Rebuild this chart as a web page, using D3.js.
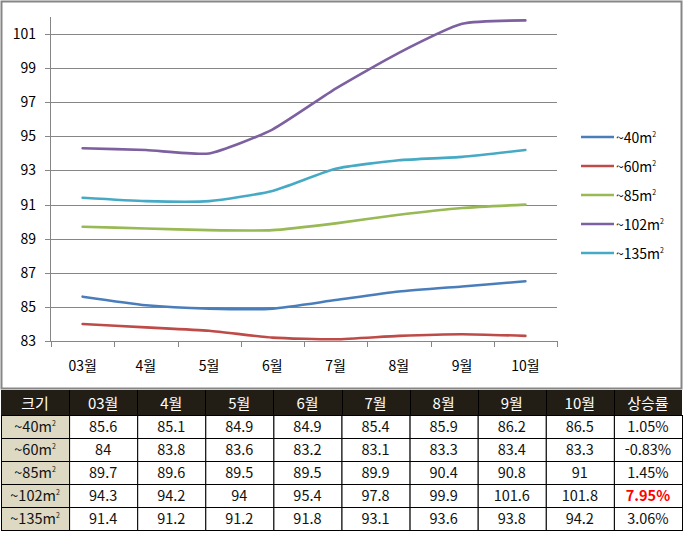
<!DOCTYPE html>
<html lang="ko">
<head>
<meta charset="UTF-8">
<title>면적별 추이</title>
<style>
    body { margin: 0; background: #fff; }
    svg text { font-family: "Noto Sans CJK KR", "Noto Sans", sans-serif; }
</style>
<script src="https://d3js.org/d3.v7.min.js"></script>
</head>
<body>
<svg id="chart" width="684" height="534"></svg>
<script>
    // data
    const months = ["03월", "4월", "5월", "6월", "7월", "8월", "9월", "10월"];
    const sizes = ["~40", "~60", "~85", "~102", "~135"];
    const s40 = [85.6, 85.1, 84.9, 84.9, 85.4, 85.9, 86.2, 86.5];
    const s60 = [84, 83.8, 83.6, 83.2, 83.1, 83.3, 83.4, 83.3];
    const s85 = [89.7, 89.6, 89.5, 89.5, 89.9, 90.4, 90.8, 91];
    const s102 = [94.3, 94.2, 94, 95.4, 97.8, 99.9, 101.6, 101.8];
    const s135 = [91.4, 91.2, 91.2, 91.8, 93.1, 93.6, 93.8, 94.2];
    const rates = ["1.05%", "-0.83%", "1.45%", "7.95%", "3.06%"];
    const yTicks = [83, 85, 87, 89, 91, 93, 95, 97, 99, 101];
    const colors = ["#4a7ebb", "#be4b48", "#98b954", "#7d60a0", "#46aac5"];

    const series = [s40, s60, s85, s102, s135];
    const svg = d3.select("#chart");

    // chart frame
    svg.append("rect")
        .attr("x", 1.5).attr("y", 1.5)
        .attr("width", 680).attr("height", 387)
        .attr("fill", "#fff")
        .attr("stroke", "#868686").attr("stroke-width", 2);

    const x = d3.scaleBand().domain(months).range([51, 557]);
    const y = d3.scaleLinear().domain([83, 102]).range([341, 17]);

    // gridlines
    svg.append("g").selectAll("line").data(yTicks).join("line")
        .attr("x1", 45).attr("x2", 557)
        .attr("y1", d => Math.round(y(d)) + 0.5).attr("y2", d => Math.round(y(d)) + 0.5)
        .attr("stroke", "#868686").attr("stroke-width", 1);

    // y axis line
    svg.append("line")
        .attr("x1", 50.5).attr("x2", 50.5).attr("y1", 17).attr("y2", 341)
        .attr("stroke", "#868686");

    svg.append("g").selectAll("text").data(yTicks).join("text")
        .attr("x", 36).attr("y", d => y(d) + 5)
        .attr("text-anchor", "end")
        .attr("font-size", 14)
        .attr("fill", "#000")
        .text(d => d);

    // x axis ticks
    const xEdges = months.map(m => x(m)).concat([557]);
    svg.append("g").selectAll("line").data(xEdges).join("line")
        .attr("x1", d => Math.round(d) + 0.5).attr("x2", d => Math.round(d) + 0.5)
        .attr("y1", 341).attr("y2", 347)
        .attr("stroke", "#868686");

    svg.append("g").selectAll("text").data(months).join("text")
        .attr("x", d => x(d) + x.bandwidth() / 2)
        .attr("y", 371)
        .attr("text-anchor", "middle")
        .attr("font-size", 14)
        .text(d => d);

    // lines
    const line = d3.line()
        .x((d, i) => x(months[i]) + x.bandwidth() / 2)
        .y(d => y(d))
        .curve(d3.curveCardinal.tension(0.45));

    svg.append("g").selectAll("path").data(series).join("path")
        .attr("d", d => line(d))
        .attr("fill", "none")
        .attr("stroke", (d, i) => colors[i])
        .attr("stroke-width", 2.6)
        .attr("stroke-linejoin", "round")
        .attr("stroke-linecap", "round");

    // legend
    const lg = svg.append("g").selectAll("g").data(sizes).join("g")
        .attr("transform", (d, i) => `translate(581,${137 + i * 29})`);
    lg.append("line")
        .attr("x1", 0).attr("x2", 33)
        .attr("stroke", (d, i) => colors[i]).attr("stroke-width", 2.6);
    const lt = lg.append("text")
        .attr("x", 35).attr("y", 6)
        .attr("font-size", 14);
    lt.append("tspan").text(d => d + "m");
    lt.append("tspan").attr("font-size", 7).attr("dy", -6).text("2");

    // table
    const cols = ["크기"].concat(months).concat(["상승률"]);
    const tx = d3.scaleBand().domain(cols).range([1, 682]);
    const rowH = 23;
    const tableTop = 392;

    const header = svg.append("g");
    header.append("rect")
        .attr("x", 1).attr("y", tableTop - 2).attr("width", 681).attr("height", 25)
        .attr("fill", "#231e15");
    header.selectAll("text").data(cols).join("text")
        .attr("x", d => tx(d) + tx.bandwidth() / 2)
        .attr("y", tableTop + 17)
        .attr("text-anchor", "middle")
        .attr("font-size", 15)
        .attr("fill", "#fff")
        .text(d => d);

    const body = svg.append("g");
    sizes.forEach((s, r) => {
        const ry = tableTop + 23 + r * rowH;
        const cells = [s].concat(series[r]).concat([rates[r]]);
        cells.forEach((v, c) => {
            body.append("rect")
                .attr("x", tx(cols[c]) + 0.5).attr("y", ry + 0.5)
                .attr("width", tx.bandwidth()).attr("height", rowH)
                .attr("fill", c === 0 ? "#ddd9c3" : "#fff")
                .attr("stroke", "#000").attr("stroke-width", 1);
            const t = body.append("text")
                .attr("x", tx(cols[c]) + tx.bandwidth() / 2)
                .attr("y", ry + 17)
                .attr("text-anchor", "middle")
                .attr("font-size", 14.5)
                .attr("fill", "#111");
            if (c === 0) {
                t.append("tspan").text(v + "m");
                t.append("tspan").attr("font-size", 7).attr("dy", -6).text("2");
            } else {
                t.text(v);
                if (r === 3 && c === cols.length - 1) {
                    t.attr("fill", "#ff0000").attr("font-weight", "bold");
                }
            }
        });
    });
    // header vertical separators
    header.selectAll("line").data(cols.slice(1)).join("line")
        .attr("x1", d => Math.round(tx(d)) + 0.5).attr("x2", d => Math.round(tx(d)) + 0.5)
        .attr("y1", tableTop - 2).attr("y2", tableTop + 23)
        .attr("stroke", "#000");
</script>
</body>
</html>
